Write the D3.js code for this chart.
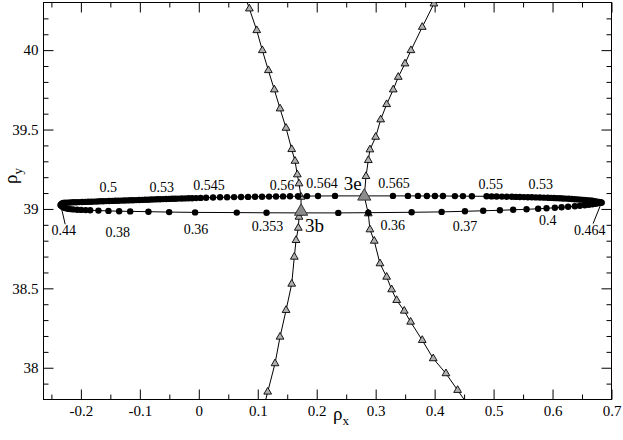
<!DOCTYPE html>
<html><head><meta charset="utf-8">
<script src="https://cdn.jsdelivr.net/npm/d3@7"></script>
<style>body{margin:0;background:#fff}svg{display:block}</style>
</head><body><svg id="c" width="623" height="440"></svg>
<script>
// ---- axis ticks ----
const xMajorTicks = [-0.2,-0.1,0,0.1,0.2,0.3,0.4,0.5,0.6,0.7];
const xTickLabels = ["-0.2","-0.1","0","0.1","0.2","0.3","0.4","0.5","0.6","0.7"];
const xMinorTicks = [-0.25,-0.15,-0.05,0.05,0.15,0.25,0.35,0.45,0.55,0.65];
const yMajorTicks = [38,38.5,39,39.5,40];
const yTickLabels = ["38","38.5","39","39.5","40"];
const yMinorTicks = [37.9,38.1,38.2,38.3,38.4,38.6,38.7,38.8,38.9,39.1,39.2,39.3,39.4,39.6,39.7,39.8,39.9,40.1,40.2];

// ---- closed curve of filled circles: upper branch (left tip -> right tip) ----
const upperBranch = [
[-0.2342,39.0249],[-0.2325,39.0337],[-0.2300,39.0374],[-0.2266,39.0387],[-0.2224,39.0400],[-0.2181,39.0406],
[-0.2131,39.0418],[-0.2080,39.0425],[-0.2029,39.0431],[-0.1978,39.0437],[-0.1927,39.0444],[-0.1876,39.0450],
[-0.1825,39.0456],[-0.1775,39.0463],[-0.1724,39.0469],[-0.1673,39.0481],[-0.1622,39.0488],[-0.1571,39.0494],
[-0.1520,39.0500],[-0.1469,39.0507],[-0.1419,39.0513],[-0.1368,39.0519],[-0.1317,39.0525],[-0.1266,39.0532],
[-0.1215,39.0538],[-0.1164,39.0544],[-0.1114,39.0551],[-0.1063,39.0557],[-0.1012,39.0563],[-0.0961,39.0570],
[-0.0910,39.0576],[-0.0859,39.0582],[-0.0808,39.0595],[-0.0758,39.0601],[-0.0707,39.0607],[-0.0656,39.0614],
[-0.0605,39.0620],[-0.0554,39.0626],[-0.0503,39.0632],[-0.0453,39.0639],[-0.0402,39.0645],[-0.0351,39.0651],
[-0.0292,39.0658],[-0.0232,39.0664],[-0.0173,39.0670],[-0.0114,39.0677],[-0.0046,39.0683],[0.0031,39.0695],
[0.0124,39.0708],[0.0242,39.0721],[0.0361,39.0733],[0.0480,39.0739],[0.0598,39.0746],[0.0717,39.0752],
[0.0836,39.0758],[0.0954,39.0765],[0.1073,39.0771],[0.1192,39.0777],[0.1310,39.0784],[0.1429,39.0790],
[0.1547,39.0796],[0.1683,39.0802],[0.1836,39.0809],[0.2022,39.0815],[0.2310,39.0821],[0.2785,39.0821],
[0.3293,39.0821],[0.3547,39.0821],[0.3717,39.0821],[0.3869,39.0815],[0.4005,39.0815],[0.4141,39.0815],
[0.4344,39.0809],[0.4480,39.0809],[0.4632,39.0802],[0.4881,39.0796],[0.4966,39.0790],[0.5051,39.0784],
[0.5141,39.0777],[0.5225,39.0771],[0.5310,39.0765],[0.5378,39.0758],[0.5446,39.0752],[0.5514,39.0746],
[0.5581,39.0739],[0.5649,39.0733],[0.5717,39.0727],[0.5785,39.0721],[0.5853,39.0711],[0.5920,39.0702],
[0.5971,39.0695],[0.6022,39.0689],[0.6073,39.0680],[0.6124,39.0670],[0.6175,39.0661],[0.6225,39.0651],
[0.6276,39.0639],[0.6327,39.0626],[0.6378,39.0614],[0.6429,39.0601],[0.6480,39.0588],[0.6531,39.0570],
[0.6581,39.0551],[0.6632,39.0532],[0.6675,39.0513],[0.6717,39.0488],[0.6751,39.0463],[0.6785,39.0437],
[0.6810,39.0418],[0.6831,39.0400]
];
// lower branch (left tip -> right tip)
const lowerBranch = [
[-0.2342,39.0249],[-0.2325,39.0167],[-0.2300,39.0104],[-0.2266,39.0053],[-0.2224,39.0016],[-0.2181,38.9991],
[-0.2131,38.9972],[-0.2063,38.9953],[-0.1995,38.9940],[-0.1919,38.9928],[-0.1842,38.9915],[-0.1702,38.9896],
[-0.1532,38.9877],[-0.1351,38.9858],[-0.1164,38.9846],[-0.0854,38.9827],[-0.0503,38.9802],[-0.0063,38.9782],
[0.0644,38.9770],[0.1149,38.9758],[0.1717,38.9751],[0.2366,38.9751],[0.2875,38.9764],[0.3610,38.9789],
[0.4119,38.9814],[0.4514,38.9852],[0.4824,38.9884],[0.5107,38.9915],[0.5332,38.9947],[0.5559,38.9978],
[0.5756,39.0009],[0.5898,39.0041],[0.6039,39.0072],[0.6153,39.0104],[0.6264,39.0135],[0.6378,39.0167],
[0.6463,39.0198],[0.6547,39.0230],[0.6615,39.0261],[0.6675,39.0293],[0.6725,39.0324],[0.6768,39.0356],
[0.6802,39.0381],[0.6831,39.0400]
];

// ---- triangle curves ----
const leftCurve = [
[0.0732,40.397],[0.0858,40.2609],[0.0983,40.1243],[0.1078,39.9984],[0.1180,39.8726],[0.1281,39.7511],
[0.1378,39.6315],[0.1480,39.5094],[0.1576,39.3754],[0.1632,39.3018],[0.1671,39.2162],[0.1700,39.1595],
[0.1734,39.0752],[0.1735,38.9840],[0.1700,38.9493],[0.1688,38.8801],[0.1649,38.8027],[0.1620,38.6976],
[0.1576,38.5277],[0.1480,38.3622],[0.1378,38.1941],[0.1293,38.0267],[0.1169,37.8480],[0.1046,37.669]
];
const rightCurve = [
[0.4186,40.44],[0.3988,40.2923],[0.3790,40.1451],[0.3598,39.9984],[0.3497,39.9147],[0.3383,39.8304],
[0.3298,39.7511],[0.3186,39.6586],[0.3085,39.5623],[0.3000,39.4528],[0.2903,39.3735],[0.2875,39.3062],
[0.2836,39.2055],[0.2807,39.0796],[0.2875,38.9707],[0.2903,38.8700],[0.2976,38.7983],[0.3073,38.6561],
[0.3186,38.5717],[0.3271,38.4924],[0.3356,38.4251],[0.3485,38.3578],[0.3593,38.2885],[0.3790,38.1734],
[0.3976,38.0582],[0.4192,37.9638],[0.4390,37.8587],[0.4588,37.754]
];

// ---- highlighted points ----
const bigPointNames = ["3b","3e"];
const bigPointX = [0.1735, 0.2807];
const bigPointY = [38.9840, 39.0796];
const bigLabelX = [0.1802, 0.2763];
const bigLabelY = [38.8549, 39.1174];

// ---- parameter annotations ----
const annoText = ["0.5","0.53","0.545","0.56","0.564","0.565","0.55","0.53","0.44","0.38","0.36","0.353","0.36","0.37","0.4","0.464"];
const annoX = [-0.1537,-0.0627,0.0175,0.1412,0.2090,0.3310,0.4953,0.5802,-0.2292,-0.1376,-0.0046,0.1166,0.3288,0.4514,0.5920,0.6632];
const annoY = [39.1067,39.1067,39.1218,39.1218,39.1344,39.1344,39.1281,39.1281,38.8342,38.8235,38.8449,38.8612,38.8656,38.8612,38.8971,38.8342];
// leader lines for the tip labels: [from, to]
const leaders = [
  [[-0.2342,39.0249],[-0.2266,38.9034]],
  [[0.6831,39.0400],[0.6688,38.9078]]
];

const W = 623, H = 440;
const L = 43.5, R = 611.5, T = 2.5, B = 399.5;
const x = d3.scaleLinear().domain([-0.2634, 0.7]).range([L, R]);
const y = d3.scaleLinear().domain([37.8, 40.3]).range([B, T]);
const FONT = "'Liberation Serif','Times New Roman',serif";

const svg = d3.select("#c");
svg.append("rect").attr("width", W).attr("height", H).attr("fill", "#fff");

svg.append("defs").append("clipPath").attr("id", "clip")
  .append("rect").attr("x", L).attr("y", T).attr("width", R - L).attr("height", B - T);

function styleAxis(g) {
  g.select(".domain").remove();
  g.selectAll("line").attr("stroke", "#000").attr("stroke-width", 1);
  g.selectAll("text").attr("font-family", FONT).attr("font-size", 15).attr("fill", "#000");
}
// bottom
svg.append("g").attr("transform", `translate(0,${B})`)
  .call(d3.axisBottom(x).tickValues(xMajorTicks).tickFormat((d, i) => xTickLabels[i]).tickSizeInner(-10).tickSizeOuter(0).tickPadding(6))
  .call(styleAxis);
svg.append("g").attr("transform", `translate(0,${B})`)
  .call(d3.axisBottom(x).tickValues(xMinorTicks).tickFormat("").tickSizeInner(-5).tickSizeOuter(0))
  .call(styleAxis);
// top
svg.append("g").attr("transform", `translate(0,${T})`)
  .call(d3.axisTop(x).tickValues(xMajorTicks).tickFormat("").tickSizeInner(-10).tickSizeOuter(0))
  .call(styleAxis);
svg.append("g").attr("transform", `translate(0,${T})`)
  .call(d3.axisTop(x).tickValues(xMinorTicks).tickFormat("").tickSizeInner(-5).tickSizeOuter(0))
  .call(styleAxis);
// left
svg.append("g").attr("transform", `translate(${L},0)`)
  .call(d3.axisLeft(y).tickValues(yMajorTicks).tickFormat((d, i) => yTickLabels[i]).tickSizeInner(-10).tickSizeOuter(0).tickPadding(5))
  .call(styleAxis);
svg.append("g").attr("transform", `translate(${L},0)`)
  .call(d3.axisLeft(y).tickValues(yMinorTicks).tickFormat("").tickSizeInner(-5).tickSizeOuter(0))
  .call(styleAxis);
// right
svg.append("g").attr("transform", `translate(${R},0)`)
  .call(d3.axisRight(y).tickValues(yMajorTicks).tickFormat("").tickSizeInner(-10).tickSizeOuter(0))
  .call(styleAxis);
svg.append("g").attr("transform", `translate(${R},0)`)
  .call(d3.axisRight(y).tickValues(yMinorTicks).tickFormat("").tickSizeInner(-5).tickSizeOuter(0))
  .call(styleAxis);

// frame
svg.append("rect").attr("x", L).attr("y", T).attr("width", R - L).attr("height", B - T)
  .attr("fill", "none").attr("stroke", "#000").attr("stroke-width", 1);

const plot = svg.append("g").attr("clip-path", "url(#clip)");
const line = d3.line().x(d => x(d[0])).y(d => y(d[1]));

// triangle curves
const triSmall = d3.symbol().type(d3.symbolTriangle).size(26);
[leftCurve, rightCurve].forEach(c => {
  plot.append("path").attr("d", line(c)).attr("fill", "none").attr("stroke", "#000").attr("stroke-width", 1);
  plot.selectAll(null).data(c.filter(d => d[1] >= 37.8 && d[1] <= 40.3)).join("path")
    .attr("d", triSmall)
    .attr("transform", d => `translate(${x(d[0])},${y(d[1])})`)
    .attr("fill", "#b0b0b0").attr("stroke", "#000").attr("stroke-width", 0.9);
});

// closed curve of circles
[upperBranch, lowerBranch].forEach(c => {
  plot.append("path").attr("d", line(c)).attr("fill", "none").attr("stroke", "#000").attr("stroke-width", 1);
  plot.selectAll(null).data(c).join("circle")
    .attr("cx", d => x(d[0])).attr("cy", d => y(d[1])).attr("r", 3.2).attr("fill", "#000");
});

// big triangles
const triBig = d3.symbol().type(d3.symbolTriangle).size(75);
plot.selectAll(null).data(bigPointX).join("path")
  .attr("d", triBig)
  .attr("transform", (d, i) => `translate(${x(bigPointX[i])},${y(bigPointY[i])})`)
  .attr("fill", "#8c8c8c").attr("stroke", "#333").attr("stroke-width", 1);

svg.selectAll(null).data(bigPointNames).join("text")
  .attr("x", (d, i) => x(bigLabelX[i])).attr("y", (d, i) => y(bigLabelY[i]))
  .attr("text-anchor", (d, i) => i === 0 ? "start" : "end")
  .attr("font-family", FONT).attr("font-size", 19).attr("fill", "#000")
  .text(d => d);

// leader lines
leaders.forEach(l => {
  svg.append("line").attr("x1", x(l[0][0])).attr("y1", y(l[0][1])).attr("x2", x(l[1][0])).attr("y2", y(l[1][1]))
    .attr("stroke", "#000").attr("stroke-width", 1);
});

// annotations
svg.selectAll(null).data(annoText).join("text")
  .attr("x", (d, i) => x(annoX[i])).attr("y", (d, i) => y(annoY[i]))
  .attr("text-anchor", "middle")
  .attr("font-family", FONT).attr("font-size", 14).attr("fill", "#000")
  .text(d => d);

// axis titles
const xt = svg.append("text").attr("x", 333).attr("y", 420)
  .attr("font-family", FONT).attr("font-size", 19).attr("fill", "#000");
xt.append("tspan").text("ρ");
xt.append("tspan").attr("dy", 5).attr("font-size", 13).text("x");

const yt = svg.append("text").attr("transform", "translate(17,184) rotate(-90)")
  .attr("font-family", FONT).attr("font-size", 19).attr("fill", "#000");
yt.append("tspan").text("ρ");
yt.append("tspan").attr("dy", 5).attr("font-size", 13).text("y");
</script>
</body></html>
